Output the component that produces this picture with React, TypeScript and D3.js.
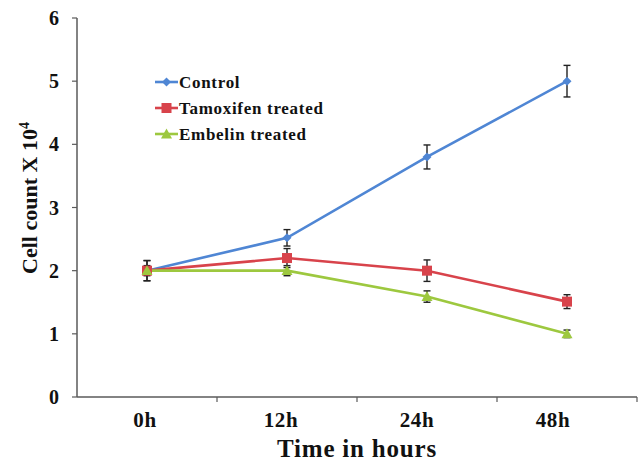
import React from "react";
import * as d3 from "d3";

const categories = ["0h", "12h", "24h", "48h"];
const controlValues = [2.0, 2.52, 3.8, 5.0];
const controlErrors = [0.16, 0.13, 0.19, 0.25];
const tamoxifenValues = [2.0, 2.2, 2.0, 1.51];
const tamoxifenErrors = [0.16, 0.15, 0.17, 0.11];
const embelinValues = [2.0, 2.0, 1.59, 1.0];
const embelinErrors = [0.08, 0.08, 0.09, 0.06];
const yTicks = [0, 1, 2, 3, 4, 5, 6];

const seriesNames = ["Control", "Tamoxifen treated", "Embelin treated"];
const seriesColors = ["#4f86d4", "#d8434b", "#9dc83f"];

const W = 638;
const H = 463;
const FONT = "'Liberation Serif', 'Times New Roman', serif";

export default function App() {
  const x = d3.scaleBand().domain(categories).range([77, 637]).paddingInner(0).paddingOuter(0);
  const xLabel = d3.scaleBand().domain(categories).range([77, 621]);
  const y = d3.scaleLinear().domain([0, 6]).range([397, 18]);

  const series = [
    { name: seriesNames[0], values: controlValues, errors: controlErrors, color: seriesColors[0], shape: "diamond" },
    { name: seriesNames[1], values: tamoxifenValues, errors: tamoxifenErrors, color: seriesColors[1], shape: "square" },
    { name: seriesNames[2], values: embelinValues, errors: embelinErrors, color: seriesColors[2], shape: "triangle" },
  ];

  const cx = (c: string) => (x(c) as number) + x.bandwidth() / 2;
  const line = d3
    .line<number>()
    .x((_, i) => cx(categories[i]))
    .y((d) => y(d));

  const marker = (shape: string, px: number, py: number, color: string, key: string) => {
    if (shape === "diamond") {
      const s = 4.5;
      return <path key={key} d={`M${px},${py - s}L${px + s},${py}L${px},${py + s}L${px - s},${py}Z`} fill={color} />;
    }
    if (shape === "square") {
      const s = 5;
      return <rect key={key} x={px - s} y={py - s} width={2 * s} height={2 * s} fill={color} />;
    }
    const s = 5.5;
    return <path key={key} d={`M${px},${py - s}L${px + s},${py + s * 0.8}L${px - s},${py + s * 0.8}Z`} fill={color} />;
  };

  const axisColor = "#5a5a5a";

  return (
    <svg width={W} height={H} style={{ position: "absolute", left: 0, top: 0, background: "#fff" }}>
      {/* axes */}
      <line x1={77} x2={77} y1={18} y2={397} stroke={axisColor} strokeWidth={1.5} />
      <line x1={77} x2={637} y1={397} y2={397} stroke={axisColor} strokeWidth={1.5} />
      {yTicks.map((t) => (
        <g key={t}>
          <line x1={72} x2={77} y1={y(t)} y2={y(t)} stroke={axisColor} strokeWidth={1.2} />
          <text x={59} y={y(t) + 7} textAnchor="end" fontFamily={FONT} fontWeight="bold" fontSize={20} fill="#111">
            {t}
          </text>
        </g>
      ))}
      {categories.map((c) => (
        <line key={c} x1={(x(c) as number) + x.bandwidth()} x2={(x(c) as number) + x.bandwidth()} y1={397} y2={402} stroke={axisColor} strokeWidth={1.2} />
      ))}
      {categories.map((c) => (
        <text key={c} x={(xLabel(c) as number) + xLabel.bandwidth() / 2} y={427} textAnchor="middle" fontFamily={FONT} fontWeight="bold" fontSize={21} letterSpacing={0.6} fill="#111">
          {c}
        </text>
      ))}
      <text x={357} y={457} textAnchor="middle" fontFamily={FONT} fontWeight="bold" fontSize={25} letterSpacing={0.8} fill="#111">
        Time in hours
      </text>
      <text transform="translate(37,198) rotate(-90)" textAnchor="middle" fontFamily={FONT} fontWeight="bold" fontSize={22} fill="#111">
        Cell count X 10<tspan dy={-8} fontSize={14}>4</tspan>
      </text>

      {/* lines */}
      {series.map((s) => (
        <path key={s.name} d={line(s.values) || ""} fill="none" stroke={s.color} strokeWidth={2.6} />
      ))}
      {/* error bars */}
      {series.map((s) =>
        s.values.map((v, i) => {
          const px = cx(categories[i]);
          const y1 = y(v + s.errors[i]);
          const y2 = y(v - s.errors[i]);
          return (
            <g key={s.name + i} stroke="#222" strokeWidth={1.4}>
              <line x1={px} x2={px} y1={y1} y2={y2} />
              <line x1={px - 3.5} x2={px + 3.5} y1={y1} y2={y1} />
              <line x1={px - 3.5} x2={px + 3.5} y1={y2} y2={y2} />
            </g>
          );
        })
      )}
      {/* markers */}
      {series.map((s) => s.values.map((v, i) => marker(s.shape, cx(categories[i]), y(v), s.color, s.name + "m" + i)))}

      {/* legend */}
      {series.map((s, i) => {
        const ly = 82 + i * 26;
        return (
          <g key={s.name}>
            <line x1={155} x2={178} y1={ly} y2={ly} stroke={s.color} strokeWidth={2.6} />
            {marker(s.shape, 166.5, ly, s.color, "lm" + i)}
            <text x={179} y={ly + 5.5} fontFamily={FONT} fontWeight="bold" fontSize={17} letterSpacing={0.7} fill="#111">
              {s.name}
            </text>
          </g>
        );
      })}
    </svg>
  );
}
